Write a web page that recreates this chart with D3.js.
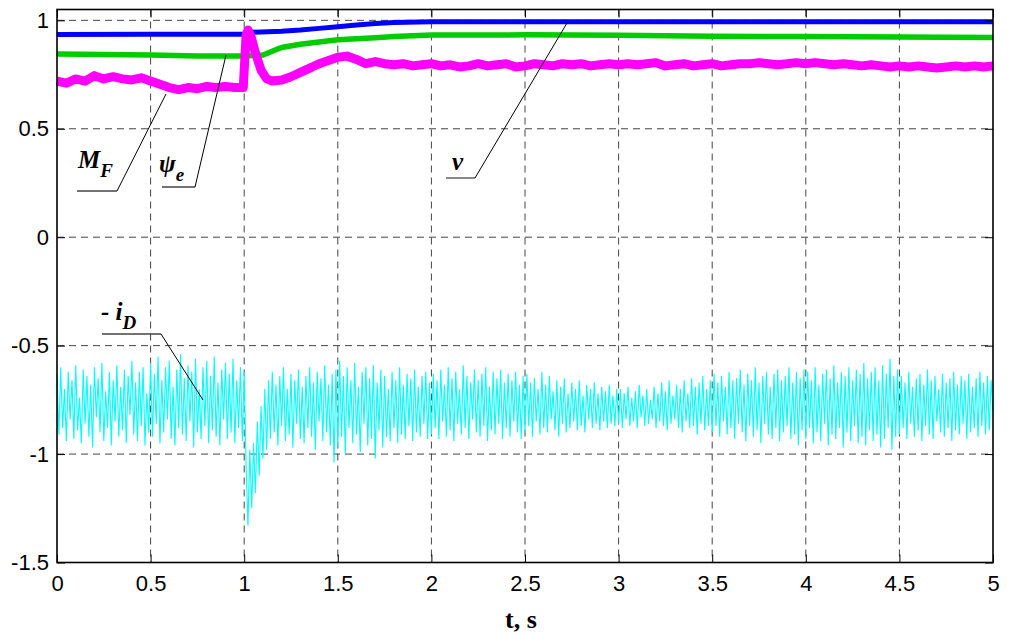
<!DOCTYPE html>
<html>
  <head>
    <meta http-equiv="content-type" content="text/html; charset=utf-8" />
    <title>t, s</title>
    <script type="text/javascript" src="https://cdn.jsdelivr.net/npm/d3@7/dist/d3.min.js"></script>
    <style type="text/css">
      body { margin: 0; background: #fff; }
      .note { font-family: "Liberation Serif", "Times New Roman", serif; font-weight: bold; font-style: italic; fill: #000; }
    </style>
  </head>
  <body>
    <script type="text/javascript">
// tick values and labels
var tTicks = [0, 0.5, 1, 1.5, 2, 2.5, 3, 3.5, 4, 4.5, 5];
var tLabels = ["0", "0.5", "1", "1.5", "2", "2.5", "3", "3.5", "4", "4.5", "5"];
var yTicks = [-1.5, -1, -0.5, 0, 0.5, 1];
var yLabels = ["-1.5", "-1", "-0.5", "0", "0.5", "1"];

// v (blue), [t, value]
var vSeries = [[0,0.935],[0.5,0.936],[1.0,0.936],[1.03,0.945],[1.2,0.95],[1.3,0.955],[1.4,0.963],
  [1.5,0.97],[1.6,0.978],[1.7,0.985],[1.8,0.99],[2.0,0.993],[2.5,0.993],[3,0.993],[3.5,0.993],
  [4,0.993],[4.5,0.993],[5,0.993]];

// psi_e (green)
var psiSeries = [[0,0.845],[0.5,0.84],[0.75,0.836],[1.0,0.836],[1.1,0.84],[1.2,0.875],[1.3,0.89],
  [1.4,0.90],[1.5,0.91],[1.6,0.915],[1.7,0.92],[1.8,0.926],[2.0,0.932],[2.5,0.933],[3.0,0.931],
  [3.5,0.927],[4,0.925],[4.5,0.923],[5,0.921]];

// M_F (magenta)
var mfSeries = [[0,0.72],[0.05,0.71],[0.1,0.73],[0.15,0.72],[0.2,0.745],[0.25,0.73],[0.3,0.74],
  [0.35,0.73],[0.4,0.725],[0.45,0.735],[0.5,0.72],[0.55,0.705],[0.6,0.69],[0.65,0.68],[0.7,0.69],
  [0.75,0.685],[0.8,0.695],[0.85,0.69],[0.9,0.695],[0.95,0.69],[0.995,0.69],[1.01,0.93],[1.02,0.955],
  [1.035,0.93],[1.06,0.85],[1.09,0.77],[1.12,0.73],[1.15,0.72],[1.2,0.725],[1.25,0.74],[1.3,0.76],
  [1.35,0.78],[1.4,0.8],[1.45,0.815],[1.5,0.83],[1.55,0.835],[1.6,0.82],[1.65,0.8],[1.7,0.81],
  [1.75,0.8],[1.8,0.795],[1.85,0.8],[1.9,0.79],[1.95,0.795],[2.0,0.8],[2.05,0.79],[2.1,0.795],
  [2.15,0.785],[2.2,0.79],[2.25,0.8],[2.3,0.79],[2.35,0.795],[2.4,0.8],[2.45,0.785],[2.5,0.79],
  [2.55,0.8],[2.6,0.795],[2.65,0.79],[2.7,0.8],[2.75,0.795],[2.8,0.8],[2.85,0.79],[2.9,0.795],
  [2.95,0.8],[3.0,0.795],[3.05,0.8],[3.1,0.795],[3.15,0.8],[3.2,0.805],[3.25,0.79],[3.3,0.795],
  [3.35,0.8],[3.4,0.79],[3.45,0.795],[3.5,0.8],[3.55,0.79],[3.6,0.795],[3.65,0.8],[3.7,0.8],
  [3.75,0.805],[3.8,0.8],[3.85,0.795],[3.9,0.8],[3.95,0.805],[4.0,0.8],[4.05,0.805],[4.1,0.8],
  [4.15,0.795],[4.2,0.8],[4.25,0.795],[4.3,0.79],[4.35,0.795],[4.4,0.79],[4.45,0.785],[4.5,0.79],
  [4.55,0.785],[4.6,0.79],[4.65,0.785],[4.7,0.78],[4.75,0.785],[4.8,0.79],[4.85,0.785],[4.9,0.79],
  [4.95,0.785],[5.0,0.79]];

// -i_D (cyan), one value every 0.01 s
var idStep = 0.01;
var idVals = [
  -0.63,-0.91,-0.60,-0.88,-0.70,-0.94,-0.62,-0.84,-0.66,-0.93,-0.59,-0.89,-0.74,-0.95,-0.61,-0.86,-0.64,-0.92,-0.68,-0.97,-0.60,-0.83,-0.65,-0.90,-0.58,
  -0.94,-0.71,-0.88,-0.62,-0.96,-0.66,-0.85,-0.59,-0.92,-0.69,-0.89,-0.61,-0.95,-0.64,-0.82,-0.57,-0.91,-0.67,-0.94,-0.62,-0.87,-0.60,-0.96,-0.72,-0.90,
  -0.58,-0.92,-0.63,-0.86,-0.55,-0.95,-0.66,-0.90,-0.60,-0.84,-0.57,-0.93,-0.69,-0.96,-0.61,-0.88,-0.54,-0.91,-0.65,-0.94,-0.59,-0.85,-0.62,-0.97,-0.56,
  -0.90,-0.70,-0.93,-0.60,-0.87,-0.57,-0.95,-0.64,-0.89,-0.55,-0.92,-0.67,-0.96,-0.61,-0.84,-0.58,-0.93,-0.63,-0.90,-0.56,-0.95,-0.66,-0.88,-0.60,-0.94,
  -0.62,-1.05,-1.33,-0.98,-1.25,-0.95,-1.18,-0.85,-1.10,-0.78,-1.02,-0.70,-0.98,-0.66,-0.93,-0.62,-0.90,-0.68,-0.96,-0.64,-0.87,-0.60,-0.94,-0.70,-0.91,
  -0.63,-0.97,-0.66,-0.86,-0.61,-0.93,-0.69,-0.95,-0.64,-0.88,-0.60,-0.92,-0.67,-0.98,-0.62,-0.85,-0.65,-0.94,-0.59,-0.90,-0.68,-0.96,-0.63,-1.04,-0.61,
  -0.97,-0.57,-0.92,-0.64,-1.00,-0.60,-0.88,-0.66,-0.95,-0.58,-0.91,-0.69,-0.99,-0.62,-0.86,-0.60,-0.96,-0.65,-0.93,-0.59,-1.02,-0.67,-0.89,-0.61,-0.97,
  -0.64,-0.92,-0.70,-0.94,-0.62,-0.88,-0.66,-0.95,-0.60,-0.91,-0.68,-0.93,-0.63,-0.87,-0.65,-0.94,-0.61,-0.90,-0.69,-0.92,-0.64,-0.86,-0.62,-0.93,-0.67,
  -0.91,-0.63,-0.88,-0.66,-0.93,-0.61,-0.85,-0.68,-0.92,-0.60,-0.89,-0.65,-0.94,-0.62,-0.86,-0.70,-0.91,-0.59,-0.88,-0.64,-0.93,-0.67,-0.84,-0.61,-0.90,
  -0.66,-0.92,-0.63,-0.87,-0.60,-0.94,-0.69,-0.89,-0.62,-0.91,-0.65,-0.86,-0.61,-0.93,-0.67,-0.88,-0.63,-0.92,-0.66,-0.85,-0.62,-0.90,-0.68,-0.93,-0.64,
  -0.90,-0.63,-0.87,-0.67,-0.92,-0.65,-0.85,-0.70,-0.91,-0.62,-0.88,-0.68,-0.90,-0.64,-0.84,-0.71,-0.89,-0.66,-0.92,-0.69,-0.86,-0.65,-0.90,-0.72,-0.88,
  -0.67,-0.85,-0.70,-0.89,-0.66,-0.87,-0.73,-0.90,-0.68,-0.84,-0.70,-0.88,-0.67,-0.86,-0.72,-0.89,-0.69,-0.85,-0.71,-0.88,-0.68,-0.86,-0.73,-0.87,-0.70,
  -0.86,-0.70,-0.88,-0.72,-0.84,-0.69,-0.87,-0.74,-0.85,-0.71,-0.88,-0.68,-0.83,-0.73,-0.87,-0.70,-0.86,-0.75,-0.84,-0.69,-0.88,-0.72,-0.85,-0.67,-0.87,
  -0.71,-0.89,-0.66,-0.86,-0.73,-0.84,-0.68,-0.88,-0.70,-0.90,-0.66,-0.85,-0.72,-0.88,-0.65,-0.87,-0.69,-0.91,-0.67,-0.86,-0.64,-0.89,-0.70,-0.87,-0.66,
  -0.90,-0.63,-0.87,-0.67,-0.92,-0.64,-0.85,-0.69,-0.91,-0.62,-0.88,-0.66,-0.93,-0.65,-0.86,-0.61,-0.90,-0.68,-0.94,-0.63,-0.87,-0.66,-0.92,-0.60,-0.89,
  -0.67,-0.95,-0.64,-0.86,-0.62,-0.91,-0.69,-0.93,-0.63,-0.88,-0.61,-0.94,-0.66,-0.90,-0.64,-0.87,-0.60,-0.93,-0.67,-0.91,-0.62,-0.96,-0.65,-0.89,-0.61,
  -0.93,-0.62,-0.88,-0.66,-0.95,-0.60,-0.90,-0.68,-0.94,-0.63,-0.86,-0.61,-0.96,-0.65,-0.91,-0.59,-0.93,-0.67,-0.88,-0.62,-0.97,-0.64,-0.90,-0.60,-0.94,
  -0.66,-0.87,-0.61,-0.95,-0.63,-0.92,-0.58,-0.96,-0.65,-0.89,-0.62,-0.94,-0.60,-0.91,-0.66,-0.97,-0.59,-0.93,-0.63,-0.88,-0.56,-0.98,-0.64,-0.92,-0.61,
  -0.91,-0.64,-0.88,-0.67,-0.93,-0.62,-0.86,-0.69,-0.92,-0.65,-0.89,-0.63,-0.94,-0.68,-0.87,-0.61,-0.91,-0.66,-0.93,-0.64,-0.85,-0.70,-0.90,-0.63,-0.92,
  -0.67,-0.88,-0.65,-0.94,-0.62,-0.89,-0.68,-0.91,-0.64,-0.86,-0.66,-0.93,-0.63,-0.90,-0.69,-0.88,-0.65,-0.92,-0.62,-0.87,-0.67,-0.91,-0.64,-0.89,-0.66,
  -0.80];

      var w = 1009, h = 635,
          padL = 57, padR = 993, padT = 9.5, padB = 562.5;

      var svg = d3.select("body").append("svg")
        .attr("width", w).attr("height", h);

      var x = d3.scaleLinear().domain([0, 5]).range([padL, padR]);
      var y = d3.scaleLinear().domain([-1.5, 1.05]).range([padB, padT]);

      // dashed grid
      svg.append("g").selectAll("line").data(tTicks.slice(1, -1)).enter().append("line")
        .attr("x1", function(d) { return x(d); }).attr("x2", function(d) { return x(d); })
        .attr("y1", padT).attr("y2", padB)
        .attr("stroke", "#444").attr("stroke-width", 1).attr("stroke-dasharray", "7,5");
      svg.append("g").selectAll("line").data(yTicks.slice(1)).enter().append("line")
        .attr("x1", padL).attr("x2", padR)
        .attr("y1", function(d) { return y(d); }).attr("y2", function(d) { return y(d); })
        .attr("stroke", "#444").attr("stroke-width", 1).attr("stroke-dasharray", "7,5");

      var line = d3.line().x(function(d) { return x(d[0]); }).y(function(d) { return y(d[1]); });

      var idSeries = idVals.map(function(v, i) { return [i * idStep, v]; });
      svg.append("path").datum(idSeries).attr("d", line)
        .attr("fill", "none").attr("stroke", "#00ffff").attr("stroke-width", 1.1);

      svg.append("path").datum(vSeries).attr("d", line)
        .attr("fill", "none").attr("stroke", "#0000ff").attr("stroke-width", 5);
      svg.append("path").datum(psiSeries).attr("d", line)
        .attr("fill", "none").attr("stroke", "#00cc00").attr("stroke-width", 5.5);
      svg.append("path").datum(mfSeries).attr("d", line)
        .attr("fill", "none").attr("stroke", "#ff00ff").attr("stroke-width", 9)
        .attr("stroke-linejoin", "round");

      // axes with inward ticks
      var gx = svg.append("g").attr("transform", "translate(0," + padB + ")")
        .call(d3.axisBottom(x).tickValues(tTicks).tickFormat(function(d, i) { return tLabels[i]; })
          .tickSizeInner(-8).tickSizeOuter(0).tickPadding(13));
      var gy = svg.append("g").attr("transform", "translate(" + padL + ",0)")
        .call(d3.axisLeft(y).tickValues(yTicks).tickFormat(function(d, i) { return yLabels[i]; })
          .tickSizeInner(-8).tickSizeOuter(0).tickPadding(8));
      svg.append("g").attr("transform", "translate(0," + padT + ")")
        .call(d3.axisTop(x).tickValues(tTicks).tickFormat("").tickSizeInner(-8).tickSizeOuter(0));
      svg.append("g").attr("transform", "translate(" + padR + ",0)")
        .call(d3.axisRight(y).tickValues(yTicks).tickFormat("").tickSizeInner(-8).tickSizeOuter(0));
      svg.selectAll(".domain").remove();
      svg.selectAll(".tick line").attr("stroke", "#000");
      [gx, gy].forEach(function(g) {
        g.selectAll("text")
          .style("font-family", "'Liberation Sans', Arial, sans-serif")
          .style("font-size", "22px").attr("fill", "#000");
      });

      svg.append("rect").attr("x", padL).attr("y", padT)
        .attr("width", padR - padL).attr("height", padB - padT)
        .attr("fill", "none").attr("stroke", "#000").attr("stroke-width", 1.6);

      svg.append("text").attr("x", 521).attr("y", 628)
        .attr("text-anchor", "middle")
        .style("font-family", "'Liberation Serif', 'Times New Roman', serif")
        .style("font-weight", "bold").style("font-size", "26px")
        .text("t, s");

      // annotations: label, underline, leader
      var notes = [
        {main: "M", sub: "F", tx: 78, ty: 168, ux1: 77, ux2: 117, uy: 191, lx: 166, ly: 94},
        {main: "\u03c8", sub: "e", tx: 159, ty: 172, ux1: 162, ux2: 195, uy: 187, lx: 226, ly: 55},
        {main: "v", sub: "", tx: 452, ty: 170, ux1: 446, ux2: 475, uy: 178, lx: 567, ly: 23},
        {main: "- i", sub: "D", tx: 101, ty: 320, ux1: 102, ux2: 161, uy: 334, lx: 203, ly: 400}
      ];
      notes.forEach(function(n) {
        var t = svg.append("text").attr("class", "note").attr("x", n.tx).attr("y", n.ty)
          .style("font-size", "25px");
        t.append("tspan").text(n.main);
        if (n.sub) t.append("tspan").attr("dy", 9).style("font-size", "19px").text(n.sub);
        svg.append("line").attr("x1", n.ux1).attr("x2", n.ux2).attr("y1", n.uy).attr("y2", n.uy)
          .attr("stroke", "#444").attr("stroke-width", 1.3);
        svg.append("line").attr("x1", n.ux2).attr("y1", n.uy).attr("x2", n.lx).attr("y2", n.ly)
          .attr("stroke", "#000").attr("stroke-width", 1);
      });
    </script>
  </body>
</html>
